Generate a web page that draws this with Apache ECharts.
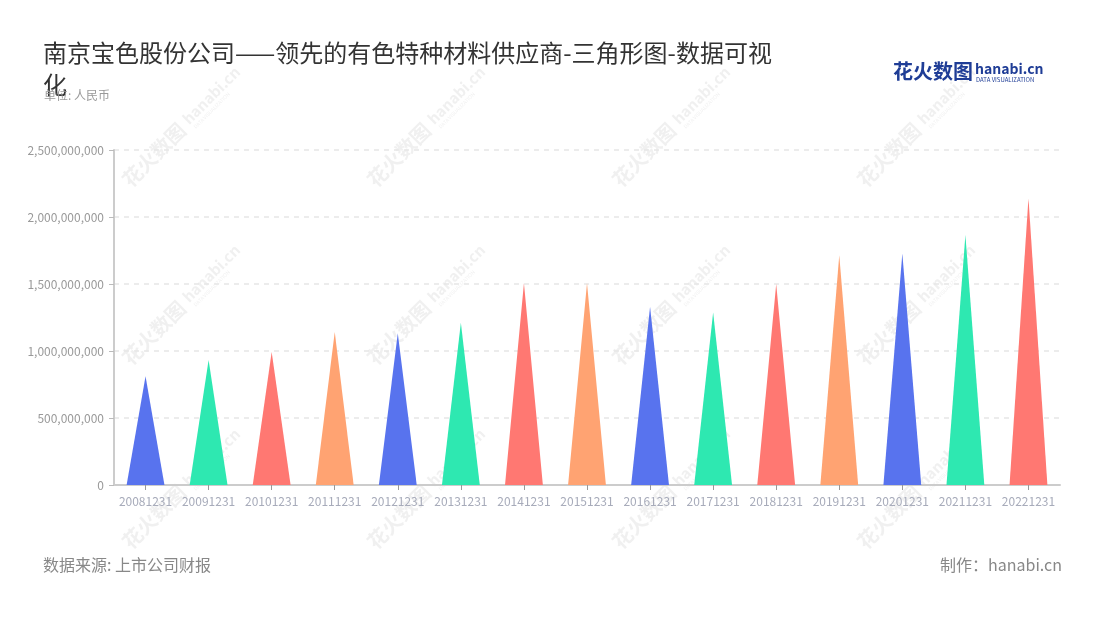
<!DOCTYPE html>
<html>
<head>
<meta charset="utf-8">
<script src="https://cdn.jsdelivr.net/npm/echarts@6/dist/echarts.min.js"></script>
<style>
html,body{margin:0;padding:0;background:#fff;}
#main{width:1100px;height:620px;}
</style>
</head>
<body>
<div id="main"></div>
<script>
const categories = ['20081231','20091231','20101231','20111231','20121231','20131231','20141231','20151231','20161231','20171231','20181231','20191231','20201231','20211231','20221231'];
const revenue = [812000000, 933000000, 992000000, 1142000000, 1132000000, 1210000000, 1505000000, 1508000000, 1330000000, 1288000000, 1500000000, 1715000000, 1728000000, 1865000000, 2140000000];
const yTicks = [0, 500000000, 1000000000, 1500000000, 2000000000, 2500000000];
const palette = ['#5873EE', '#2EE8B1', '#FF7872', '#FFA372'];
const titleText = '南京宝色股份公司——领先的有色特种材料供应商-三角形图-数据可视化';
const unitText = '单位: 人民币';
const sourceText = '数据来源: 上市公司财报';
const makerText = '制作：hanabi.cn';

const FONT = '"Noto Sans CJK SC", "Noto Sans", sans-serif';
const chart = echarts.init(document.getElementById('main'), null, {renderer: 'canvas'});

function fmt(v) { return v.toString().replace(/\B(?=(\d{3})+(?!\d))/g, ','); }

const wmXs = [180, 425, 670, 915];
const wmYs = [130, 308, 492];
const wmColor = 'rgba(215,215,215,0.38)';
const watermarks = [];
wmXs.forEach(x => wmYs.forEach(y => {
  watermarks.push({
    type: 'group', x: x, y: y, rotation: Math.PI / 4, z: 100, silent: true,
    children: [
      {type: 'text', x: -76, y: -11, style: {text: '花火数图', fontSize: 20, fontWeight: 'bold', fill: wmColor, fontFamily: FONT}},
      {type: 'text', x: 10, y: -10, style: {text: 'hanabi.cn', fontSize: 15, fontWeight: 'bold', fill: wmColor, fontFamily: FONT}},
      {type: 'text', x: 12, y: 6, style: {text: 'DATA VISUALIZATION', fontSize: 5, fill: wmColor, fontFamily: FONT}}
    ]
  });
}));

const logoColor = '#1f3d96';
const logo = {
  type: 'group', x: 893, y: 61, z: 110, silent: true,
  children: [
    {type: 'text', x: 0, y: 0, style: {text: '花火数图', fontSize: 20, fontWeight: 'bold', fill: logoColor, fontFamily: FONT}},
    {type: 'text', x: 82, y: 1, style: {text: 'hanabi.cn', fontSize: 14, fontWeight: 'bold', fill: logoColor, fontFamily: FONT}},
    {type: 'text', x: 83, y: 16, style: {text: 'DATA VISUALIZATION', fontSize: 6, fill: logoColor, fontFamily: FONT}}
  ]
};

const option = {
  backgroundColor: '#fff',
  animation: false,
  textStyle: {fontFamily: FONT},
  title: [
    {
      text: titleText, left: 43, top: 37, padding: 0,
      textStyle: {fontSize: 24, fontWeight: 'normal', color: '#333', width: 745, overflow: 'break', lineHeight: 32, fontFamily: FONT}
    },
    {
      text: unitText, left: 44, top: 89, padding: 0,
      textStyle: {fontSize: 12, fontWeight: 'normal', color: '#999', fontFamily: FONT}
    },
    {
      text: sourceText, left: 43, top: 557, padding: 0,
      textStyle: {fontSize: 16, fontWeight: 'normal', color: '#888', fontFamily: FONT}
    },
    {
      text: makerText, right: 38, top: 557, padding: 0,
      textStyle: {fontSize: 16, fontWeight: 'normal', color: '#888', fontFamily: FONT}
    }
  ],
  grid: {left: 114, right: 40, top: 150, bottom: 135, containLabel: false},
  xAxis: {
    type: 'category',
    data: categories,
    axisLine: {lineStyle: {color: '#ccc', width: 2}},
    axisTick: {show: true, alignWithLabel: true, lineStyle: {color: '#999'}},
    axisLabel: {color: '#a7abba', fontSize: 12, margin: 10, interval: 0}
  },
  yAxis: {
    type: 'value',
    min: yTicks[0], max: yTicks[yTicks.length - 1], interval: yTicks[1] - yTicks[0],
    axisLine: {show: true, lineStyle: {color: '#ccc', width: 2}},
    axisTick: {show: true, length: 5, lineStyle: {color: '#bbb'}},
    axisLabel: {color: '#999', fontSize: 12, margin: 10, formatter: fmt},
    splitLine: {show: true, lineStyle: {type: [5, 5], color: '#e6e6e6', width: 1.5}}
  },
  series: [{
    type: 'pictorialBar',
    symbol: 'path://M0,100 L50,0 L100,100 Z',
    barCategoryGap: '40%',
    data: revenue.map((v, i) => ({value: v, itemStyle: {color: palette[i % palette.length]}}))
  }],
  graphic: watermarks.concat([logo])
};
chart.setOption(option);
</script>
</body>
</html>
